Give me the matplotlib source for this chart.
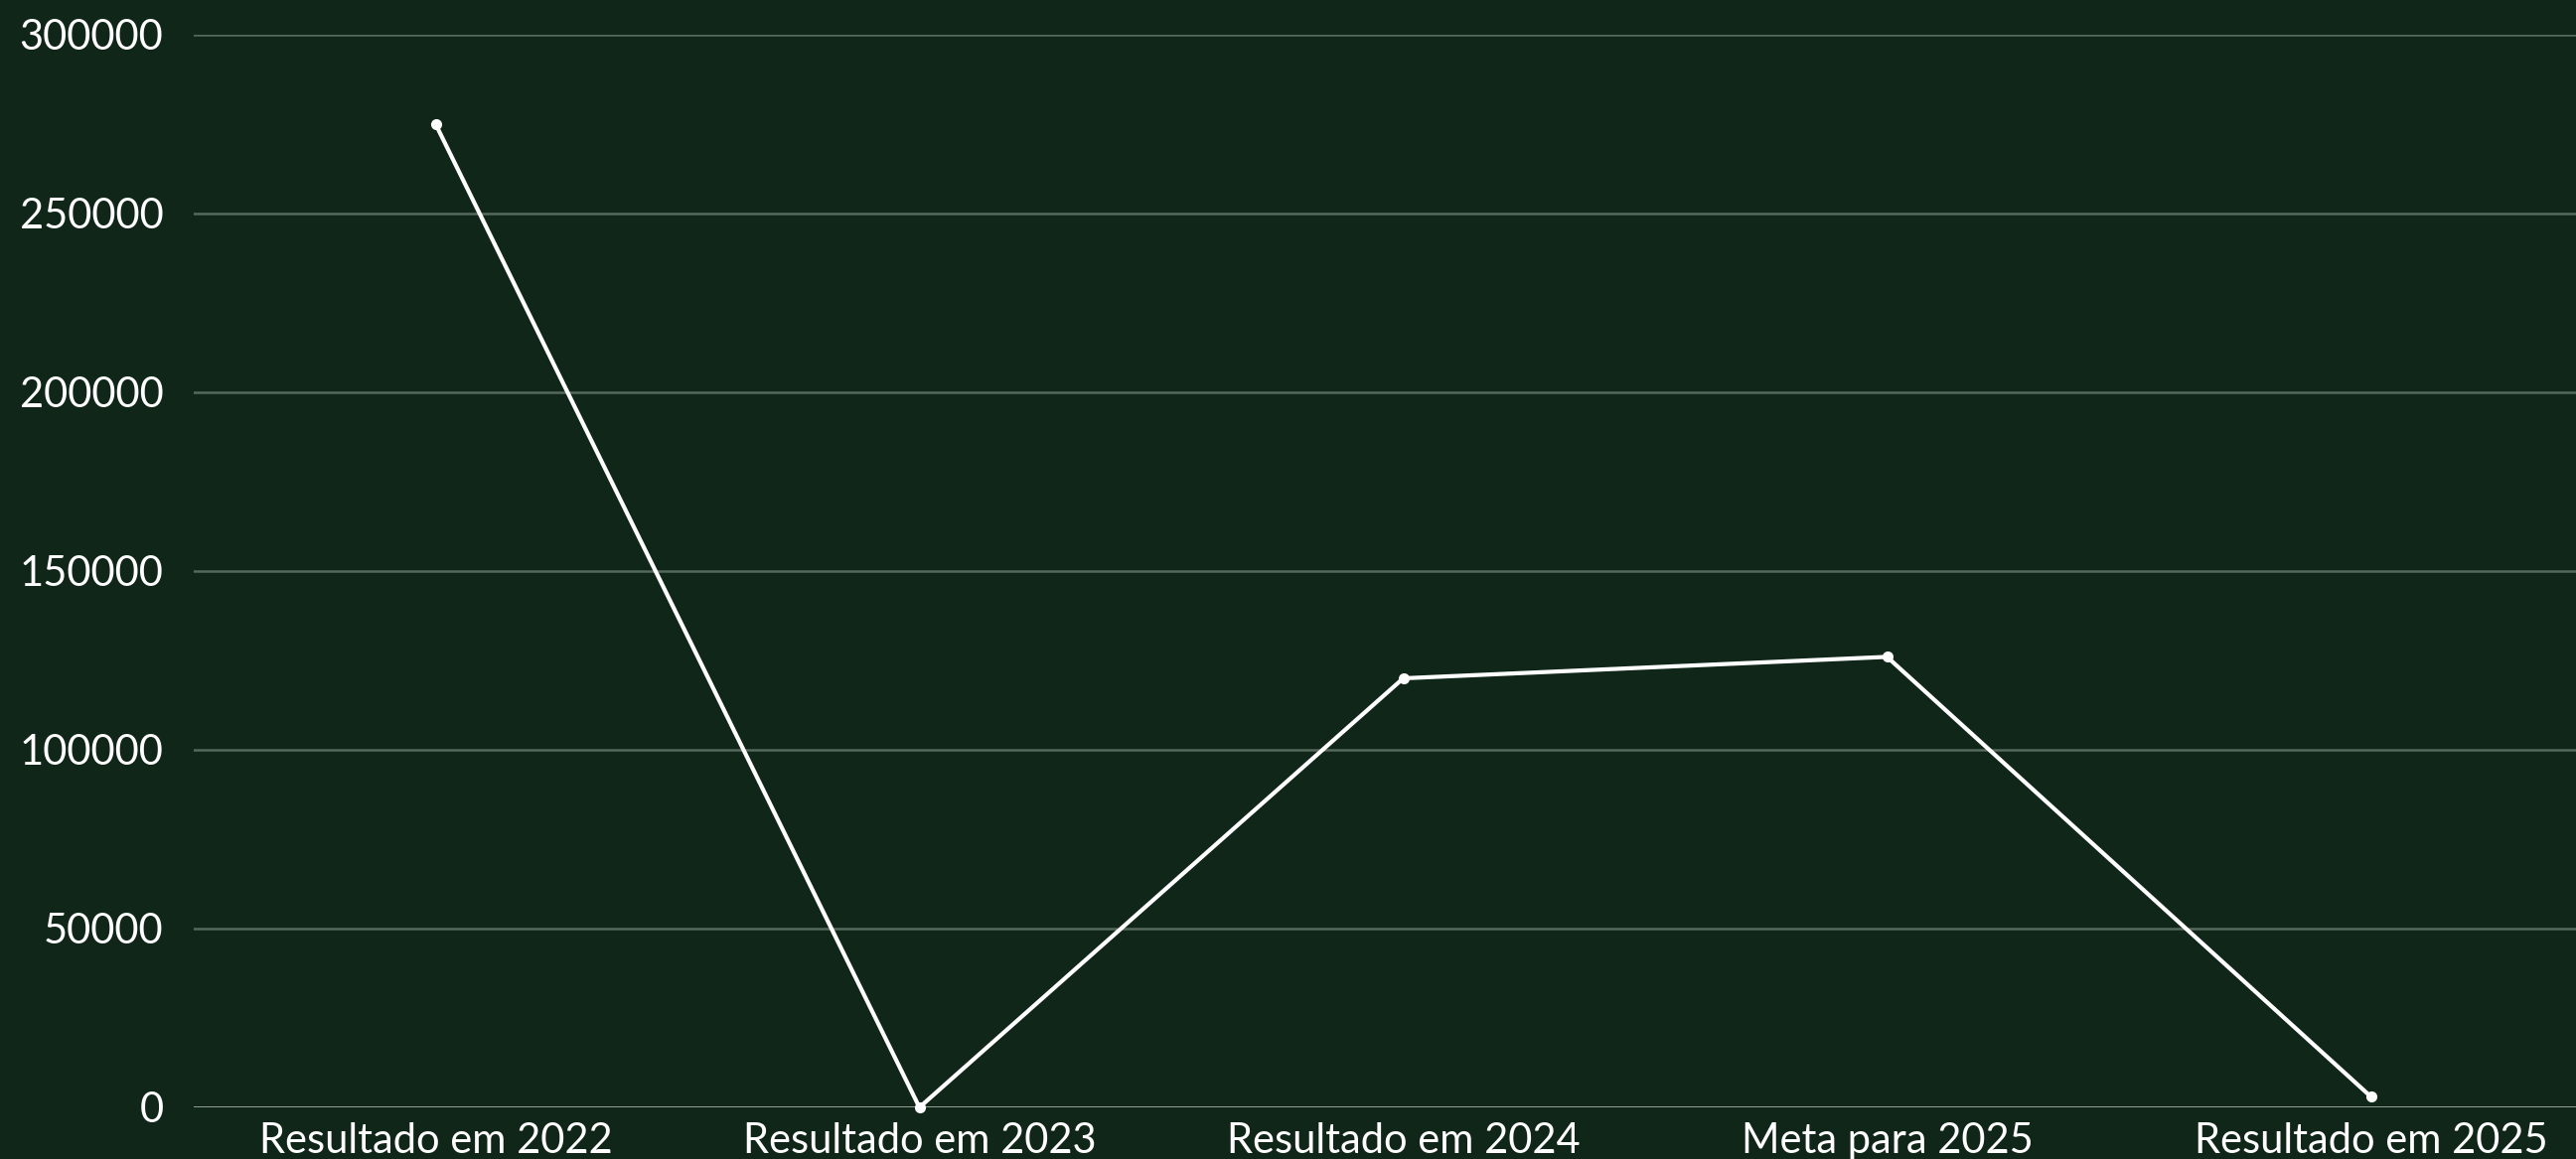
import matplotlib.pyplot as plt

# data
categorias = ["Resultado em 2022", "Resultado em 2023", "Resultado em 2024",
              "Meta para 2025", "Resultado em 2025"]
valores = [275000, 0, 120000, 126000, 3000]
yticks = [0, 50000, 100000, 150000, 200000, 250000, 300000]

bg = "#0f2618"
W, H = 2593, 1167

plt.rcParams['font.family'] = ['Lato', 'DejaVu Sans']

fig = plt.figure(figsize=(W / 100, H / 100), dpi=100)
fig.patch.set_facecolor(bg)

# axis runs off the right edge of the picture, as in the reference
left = 195 / W
band = 487 / W
ax = fig.add_axes([left, 52 / H, 5 * band, (1115 - 35) / H])
ax.set_facecolor(bg)

x = list(range(len(categorias)))
ax.plot(x, valores, color="white", linewidth=3, marker="o",
        markersize=7, markerfacecolor="white", markeredgecolor="white",
        zorder=3, clip_on=False)

ax.set_xlim(-0.5, len(categorias) - 0.5)
ax.set_ylim(0, 300000)
ax.set_yticks(yticks)
ax.set_yticklabels([str(v) for v in yticks])
ax.set_xticks(x)
ax.set_xticklabels(categorias)

for s in ax.spines.values():
    s.set_visible(False)

for v in yticks[1:]:
    ax.axhline(v, color="#55695c", linewidth=1.8, zorder=1)
ax.axhline(0, color="#a3aba4", linewidth=2, zorder=2)

ax.tick_params(axis="both", length=0, colors="white", labelsize=30)
ax.tick_params(axis="y", pad=22)
ax.tick_params(axis="x", pad=11)

fig.savefig("out.png", dpi=100, facecolor=bg)
